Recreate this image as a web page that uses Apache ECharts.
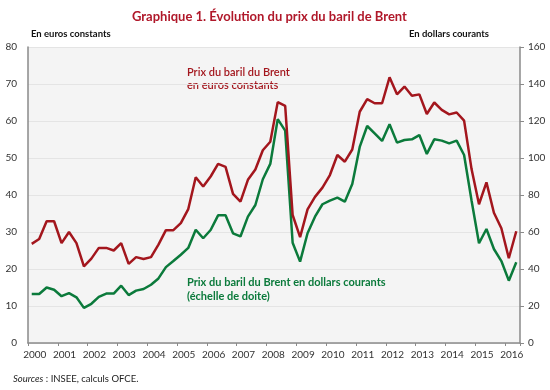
<!DOCTYPE html>
<html>
<head>
<meta charset="utf-8">
<script src="https://cdn.jsdelivr.net/npm/echarts@6/dist/echarts.min.js"></script>
<style>
html,body{margin:0;padding:0;background:#fff;}
#chart{width:550px;height:390px;}
</style>
</head>
<body>
<div id="chart"></div>
<script>
// Quarterly categories 2000T1 .. 2016T2
const years = ['2000','2001','2002','2003','2004','2005','2006','2007','2008','2009','2010','2011','2012','2013','2014','2015','2016'];
const quarters = [];
years.forEach(y => { ['T1','T2','T3','T4'].forEach(q => quarters.push(y + q)); });
quarters.length = 66; // up to 2016T2

// Prix du baril du Brent en euros constants (échelle de gauche)
const brentEurosConstants = [
  26.8, 28.1, 32.9, 32.9,
  27.0, 30.0, 27.0, 20.7,
  22.8, 25.7, 25.7, 25.0,
  27.0, 21.4, 23.2, 22.7,
  23.2, 26.6, 30.5, 30.5,
  32.4, 36.2, 44.8, 42.3,
  45.0, 48.4, 47.6, 40.3,
  38.2, 44.1, 46.9, 52.1,
  54.4, 65.1, 64.1, 34.6,
  28.6, 36.1, 39.5, 42.0,
  45.4, 50.8, 49.0, 52.3,
  62.5, 65.9, 64.8, 64.8,
  71.8, 67.2, 69.3, 66.8,
  67.2, 61.9, 65.0, 63.0,
  61.8, 62.3, 60.1, 47.0,
  37.5, 43.4, 35.2, 31.0,
  22.9, 30.2
];

// Prix du baril du Brent en dollars courants (échelle de droite)
const brentDollarsCourants = [
  26.5, 26.5, 30.0, 28.8,
  25.3, 27.0, 24.7, 19.0,
  21.2, 24.9, 26.7, 26.7,
  31.0, 25.9, 28.3, 29.2,
  31.5, 34.9, 41.0, 44.3,
  47.7, 51.4, 61.2, 56.6,
  61.1, 69.0, 69.0, 59.3,
  57.6, 68.3, 74.6, 88.5,
  96.8, 121.0, 114.8, 54.2,
  44.0, 59.3, 68.3, 75.0,
  77.0, 78.6, 76.4, 86.0,
  106.0, 117.3, 113.3, 109.2,
  118.2, 108.3, 109.7, 110.1,
  112.4, 102.2, 110.1, 109.4,
  107.9, 109.4, 101.6, 77.0,
  53.9, 61.6, 50.8, 44.3,
  33.7, 43.6
];

const leftTicks = [0, 10, 20, 30, 40, 50, 60, 70, 80];
const rightTicks = [0, 20, 40, 60, 80, 100, 120, 140, 160];

const RED = '#a3161d';
const GREEN = '#0b7a3b';
const FONT = 'Lato, "Noto Sans", sans-serif';

const chart = echarts.init(document.getElementById('chart'), null, {renderer: 'canvas'});
chart.setOption({
  animation: false,
  backgroundColor: '#ffffff',
  title: {
    text: 'Graphique 1. Évolution du prix du baril de Brent',
    left: 127,
    top: 5,
    textStyle: {color: '#b0182a', fontSize: 13, fontWeight: 'bold', fontFamily: FONT}
  },
  grid: {
    left: 28, right: 30, top: 47, bottom: 47,
    show: true, backgroundColor: '#f4f4f4', borderWidth: 0
  },
  xAxis: {
    type: 'category',
    data: quarters,
    boundaryGap: true,
    axisLine: {lineStyle: {color: '#8a8a8a', width: 1.5}},
    axisTick: {
      show: true, length: 3,
      interval: (i) => i % 4 === 0,
      lineStyle: {color: '#8a8a8a'}
    },
    axisLabel: {
      interval: (i) => i % 4 === 0,
      formatter: (v) => v.slice(0, 4),
      color: '#333', fontSize: 10, fontFamily: FONT, margin: 7,
      padding: [0, 0, 0, 6]
    },
    splitLine: {show: false}
  },
  yAxis: [
    {
      type: 'value', min: leftTicks[0], max: leftTicks[leftTicks.length - 1], interval: 10,
      position: 'left',
      axisLine: {show: true, lineStyle: {color: '#8a8a8a', width: 1.5}},
      axisTick: {show: false},
      axisLabel: {color: '#333', fontSize: 10, fontFamily: FONT, margin: 11},
      splitLine: {show: true, lineStyle: {color: '#e4e4e4', width: 1}}
    },
    {
      type: 'value', min: rightTicks[0], max: rightTicks[rightTicks.length - 1], interval: 20,
      position: 'right',
      axisLine: {show: true, lineStyle: {color: '#8a8a8a', width: 1.5}},
      axisTick: {show: true, length: 4, lineStyle: {color: '#8a8a8a'}},
      axisLabel: {color: '#333', fontSize: 10, fontFamily: FONT, margin: 8},
      splitLine: {show: false}
    }
  ],
  series: [
    {
      name: 'Prix du baril du Brent en euros constants',
      type: 'line', yAxisIndex: 0,
      data: brentEurosConstants,
      showSymbol: false, symbol: 'none',
      lineStyle: {color: RED, width: 2.5},
      itemStyle: {color: RED},
      z: 3
    },
    {
      name: 'Prix du baril du Brent en dollars courants',
      type: 'line', yAxisIndex: 1,
      data: brentDollarsCourants,
      showSymbol: false, symbol: 'none',
      lineStyle: {color: GREEN, width: 2.5},
      itemStyle: {color: GREEN},
      z: 2
    }
  ],
  graphic: [
    {type: 'text', left: 31, top: 29,
     style: {text: 'En euros constants', fill: '#111', font: 'bold 9.5px ' + FONT}},
    {type: 'text', right: 61, top: 29,
     style: {text: 'En dollars courants', fill: '#111', font: 'bold 9.5px ' + FONT}},
    {type: 'text', left: 187, top: 66,
     style: {text: 'Prix du baril du Brent\nen euros constants', fill: RED, font: '600 11px ' + FONT, lineHeight: 13}},
    {type: 'text', left: 187, top: 275,
     style: {text: 'Prix du baril du Brent en dollars courants\n(échelle de doite)', fill: GREEN, font: 'bold 11px ' + FONT, lineHeight: 14}},
    {type: 'text', left: 13, top: 374,
     style: {
       text: '{i|Sources} : INSEE, calculs OFCE.',
       rich: {i: {fontStyle: 'italic', fontSize: 9.5, fontFamily: FONT, fill: '#222'}},
       fontSize: 9.5, fontFamily: FONT, fill: '#222'
     }}
  ]
});
</script>
</body>
</html>
